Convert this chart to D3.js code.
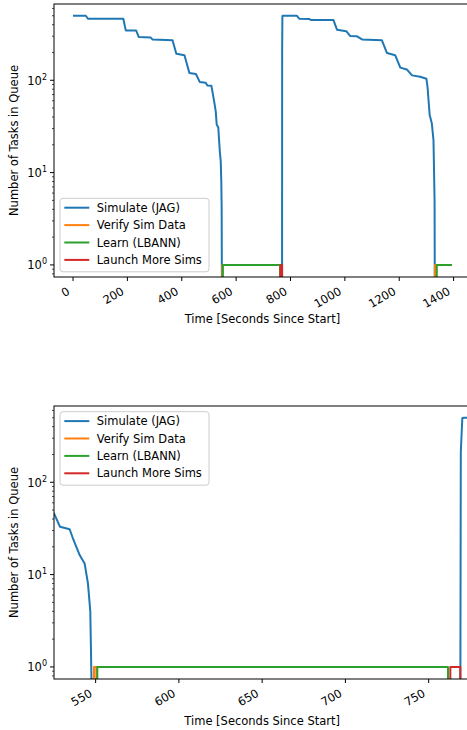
<!DOCTYPE html>
<html>
<head>
<meta charset="utf-8">
<script src="https://cdn.jsdelivr.net/npm/d3@7"></script>
<style>
  html, body { margin: 0; padding: 0; background: #fff; }
  svg { display: block; }
  text { font-family: "DejaVu Sans", sans-serif; fill: #000; }
</style>
</head>
<body>
<div id="chart"></div>
<script>
// ---------------- data ----------------
const seriesNames = ["Simulate (JAG)", "Verify Sim Data", "Learn (LBANN)", "Launch More Sims"];
const seriesColors = ["#1f77b4", "#ff7f0e", "#2ca02c", "#d62728"];

const simTime = [0, 47, 55, 185, 194, 232, 242, 286, 292, 366, 380, 410, 428, 452, 466, 488, 494, 509, 514, 520, 525, 528.6, 534.4, 536.6, 540.4, 543.4, 545.4, 546.8, 547.8,
  769, 769.3, 770.2, 771, 823, 832, 868, 876, 958, 971, 1005, 1020, 1045, 1063, 1136, 1155, 1185, 1204, 1228, 1247, 1277, 1300, 1304, 1312, 1320, 1326, 1330, 1331];
const simCount = [500, 500, 464, 464, 347, 347, 294, 290, 277, 272, 194, 187, 120, 117, 96, 94, 88, 87, 72, 57, 46, 33, 31, 24, 16.3, 13.2, 8, 4, 0,
  0, 214, 494, 500, 500, 464, 462, 449, 449, 353, 340, 301, 299, 277, 272, 197, 187, 137, 131, 113, 109, 104, 85, 42, 34, 22.4, 5, 0];

const verifyTime = [549, 549, 550.4, 550.4, 1331.5, 1331.5, 1336, 1336];
const verifyCount = [0, 1, 1, 0, 0, 1, 1, 0];

const learnTime = [551, 551, 761.6, 761.6, 1338, 1338, 1394];
const learnCount = [0, 1, 1, 0, 0, 1, 1];

const launchTime = [763, 763, 769, 769];
const launchCount = [0, 1, 1, 0];

const topXTicks = [0, 200, 400, 600, 800, 1000, 1200, 1400];
const bottomXTicks = [550, 600, 650, 700, 750];
const yTickExps = [0, 1, 2];

const xLabel = "Time [Seconds Since Start]";
const yLabel = "Number of Tasks in Queue";

// ---------------- drawing ----------------
const W = 467, H = 730;
const svg = d3.select("#chart").append("svg").attr("width", W).attr("height", H);

const seriesData = [
  d3.zip(simTime, simCount),
  d3.zip(verifyTime, verifyCount),
  d3.zip(learnTime, learnCount),
  d3.zip(launchTime, launchCount)
];

function panel(id, cfg) {
  const x = d3.scaleLinear().domain(cfg.xDomain).range([cfg.left, cfg.right]);
  const y = d3.scaleLog().domain([0.74, 670]).range([cfg.bottom, cfg.top]);
  const g = svg.append("g");

  g.append("clipPath").attr("id", id).append("rect")
    .attr("x", cfg.left).attr("y", cfg.top)
    .attr("width", cfg.right - cfg.left).attr("height", cfg.bottom - cfg.top);

  const line = d3.line()
    .x(d => x(d[0]))
    .y(d => d[1] > 0 ? y(d[1]) : cfg.bottom + 30);

  const plot = g.append("g").attr("clip-path", `url(#${id})`);
  seriesData.forEach((data, i) => {
    plot.append("path").datum(data)
      .attr("d", line)
      .attr("fill", "none")
      .attr("stroke", seriesColors[i])
      .attr("stroke-width", 2)
      .attr("stroke-linejoin", "round")
      .attr("stroke-linecap", "butt");
  });

  // frame
  g.append("rect")
    .attr("x", cfg.left).attr("y", cfg.top)
    .attr("width", cfg.right - cfg.left).attr("height", cfg.bottom - cfg.top)
    .attr("fill", "none").attr("stroke", "#000").attr("stroke-width", 1);

  // x ticks
  cfg.xTicks.forEach(t => {
    const px = x(t);
    g.append("line").attr("x1", px).attr("x2", px)
      .attr("y1", cfg.bottom).attr("y2", cfg.bottom + 4)
      .attr("stroke", "#000").attr("stroke-width", 1);
    g.append("text")
      .attr("transform", `translate(${px - 2.5},${cfg.bottom + 16.5}) rotate(-30)`)
      .attr("text-anchor", "end")
      .attr("font-size", "11.5px")
      .text(d3.format("d")(t));
  });

  // y major ticks
  yTickExps.forEach(e => {
    const py = y(Math.pow(10, e));
    g.append("line").attr("x1", cfg.left - 4).attr("x2", cfg.left)
      .attr("y1", py).attr("y2", py)
      .attr("stroke", "#000").attr("stroke-width", 1);
    const tx = g.append("text")
      .attr("x", cfg.left - 7).attr("y", py + 4.5)
      .attr("text-anchor", "end")
      .attr("font-size", "11.5px");
    tx.append("tspan").text("10");
    tx.append("tspan").attr("dy", -5).attr("font-size", "8px").text(String(e));
  });
  // y minor ticks
  const [ymin, ymax] = y.domain();
  for (let e = -1; e <= 3; e++) {
    for (let m = 2; m <= 9; m++) {
      const v = m * Math.pow(10, e);
      if (v < ymin || v > ymax) continue;
      const py = y(v);
      g.append("line").attr("x1", cfg.left - 2).attr("x2", cfg.left)
        .attr("y1", py).attr("y2", py)
        .attr("stroke", "#000").attr("stroke-width", 0.7);
    }
  }

  // axis labels
  g.append("text")
    .attr("x", (cfg.left + cfg.right) / 2).attr("y", cfg.bottom + 46)
    .attr("text-anchor", "middle").attr("font-size", "11.5px")
    .text(xLabel);
  g.append("text")
    .attr("transform", `translate(18,${(cfg.top + cfg.bottom) / 2}) rotate(-90)`)
    .attr("text-anchor", "middle").attr("font-size", "11.5px")
    .text(yLabel);

  // legend
  const lg = g.append("g").attr("transform", `translate(60,${cfg.legendTop})`);
  lg.append("rect")
    .attr("x", 0).attr("y", 0).attr("width", 149).attr("height", 73.5)
    .attr("rx", 3).attr("ry", 3)
    .attr("fill", "#fff").attr("fill-opacity", 0.8)
    .attr("stroke", "#ccc").attr("stroke-width", 1);
  seriesNames.forEach((name, i) => {
    const cy = 9.4 + i * 17.4;
    lg.append("line").attr("x1", 4.3).attr("x2", 29.3)
      .attr("y1", cy).attr("y2", cy)
      .attr("stroke", seriesColors[i]).attr("stroke-width", 2);
    lg.append("text").attr("x", 36.7).attr("y", cy + 4.2)
      .attr("font-size", "11.5px").text(name);
  });
}

panel("clipTop", { left: 54, right: 471, top: 4, bottom: 277, xDomain: [-70, 1464], xTicks: topXTicks, legendTop: 198.3 });
panel("clipBot", { left: 54, right: 470.3, top: 406, bottom: 679, xDomain: [525, 775], xTicks: bottomXTicks, legendTop: 411.7 });
</script>
</body>
</html>
